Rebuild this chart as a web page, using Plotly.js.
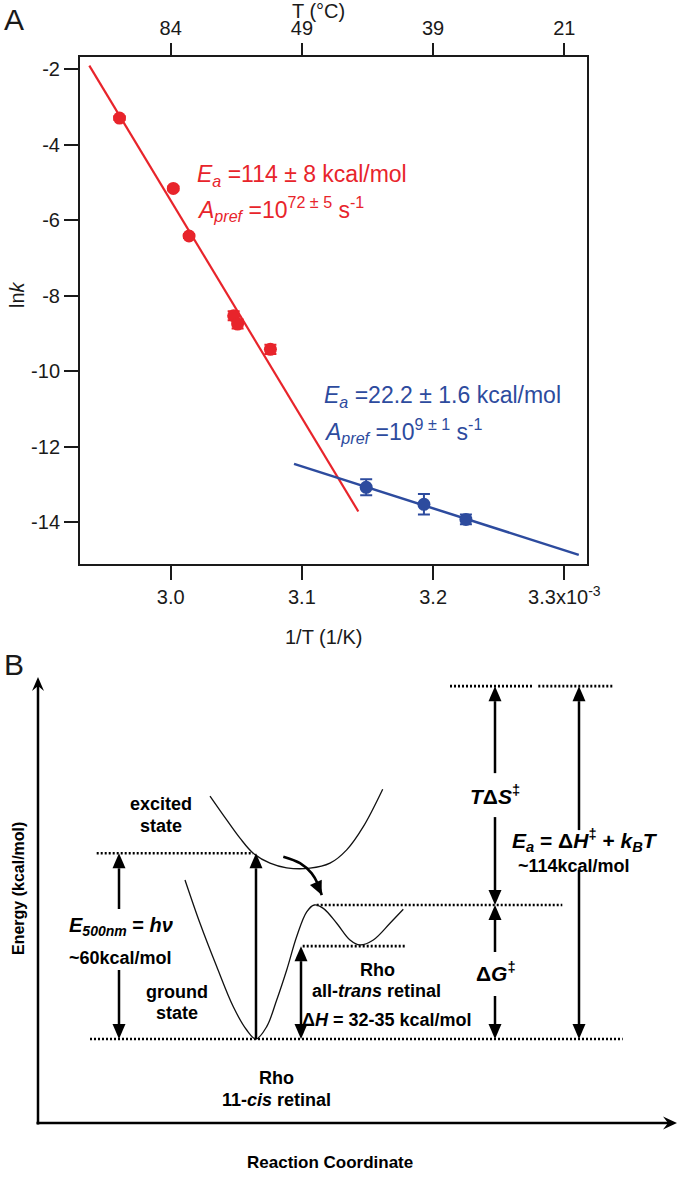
<!DOCTYPE html>
<html><head><meta charset="utf-8">
<script src="https://cdn.plot.ly/plotly-3.0.1.min.js"></script>
<style>html,body{margin:0;padding:0;background:#fff}#chart{width:680px;height:1183px}</style>
</head><body><div id="chart"></div>
<script>
// ---------- Panel A data: 1/T (units of 1e-3 K^-1) vs ln k ----------
const redX = [2.961, 3.002, 3.014, 3.048, 3.051, 3.076];
const redY = [-3.30, -5.16, -6.42, -8.53, -8.75, -9.42];
const redErr = [0.05, 0.05, 0.05, 0.12, 0.12, 0.12];
const blueX = [3.149, 3.193, 3.225];
const blueY = [-13.07, -13.52, -13.92];
const blueErr = [0.21, 0.27, 0.13];
const redFitX = [2.938, 3.143];
const redFitY = [-1.91, -13.71];
const blueFitX = [3.094, 3.311];
const blueFitY = [-12.45, -14.86];
const xTickVals = [3.0, 3.1, 3.2, 3.3];
const xTickText = ['3.0', '3.1', '3.2', '3.3x10<sup>-3</sup>'];
const topTickText = ['84', '49', '39', '21'];
const yTickVals = [-2, -4, -6, -8, -10, -12, -14];
const yTickText = ['-2', '-4', '-6', '-8', '-10', '-12', '-14'];

// ---------- Panel B schematic: reaction coordinate (a.u.) vs energy (kcal/mol) ----------
const groundRC = [185, 200, 216.7, 233.3, 246.7, 256, 266.7, 276.7, 286.7, 296.7, 306.7, 314.3, 323.3, 336.7, 350, 360, 373.3, 390, 403.3];
const groundE  = [51.4, 37.4, 23.4, 10.4, 2.9, 0, 4.0, 12.6, 22.3, 33.1, 41.1, 43.3, 42.2, 37.4, 32.0, 30.4, 32.0, 37.4, 41.9];
const excitedRC = [210, 226.7, 240, 253.3, 270, 286.7, 310, 330, 346.7, 363.3, 382.7];
const excitedE  = [78.5, 70.8, 64.9, 60.0, 56.8, 55.3, 55.2, 56.8, 61.1, 68.6, 80.7];
const hopRC = [283.3, 300, 311.7, 318.3, 321.7];
const hopE  = [58.9, 56.8, 53.5, 49.8, 46.5];
// energy levels (kcal/mol) and their horizontal extents
const levelE  = [60, 0, 30, 43.3, 114, 114];
const levelX0 = [96.7, 90, 302.7, 316.7, 450, 538.3];
const levelX1 = [253, 622.7, 406, 562.3, 532.7, 613.3];
// vertical arrows: x, tail energy, tip energy, double-headed
const arrowX    = [119, 119, 256, 301, 495, 495, 495, 495, 579, 579];
const arrowTail = [42.0, 22.3, 0, 0, 85.9, 71.7, 28.1, 13.9, 67.5, 54.6];
const arrowTip  = [60, 0, 60, 30, 114, 43.3, 43.3, 0, 114, 0];
const arrowBoth = [false, false, false, true, false, false, false, false, false, false];

// ---------- layout helpers ----------
const W = 680, H = 1183;
const px = v => v / W, py = v => 1 - v / H;
const E0PX = 1039, PXK = 3.095;           // pixel of E=0 and px per kcal/mol in panel B
const eB = p => (E0PX - p) / PXK;
const RED = '#E8242B', BLUE = '#2D4B9E', INK = '#1a1a1a';
const FONT = 'Liberation Sans, Arial, Helvetica, sans-serif';
const HL = 15, HW = 6.5;                   // arrow head length / half width (px)

// level trace
const lvX = [], lvY = [];
levelE.forEach((e, i) => { lvX.push(levelX0[i], levelX1[i], null); lvY.push(e, e, null); });

// arrow shafts + heads
const arX = [], arY = [], shapes = [];
function vHead(x, tipE, up) {
  const b = tipE + (up ? -1 : 1) * HL / PXK;
  shapes.push({type: 'path', xref: 'x2', yref: 'y2', path: `M${x},${tipE} L${x - HW},${b} L${x + HW},${b} Z`,
    fillcolor: '#000', line: {width: 0}});
  return b;
}
arrowX.forEach((x, i) => {
  const up = arrowTip[i] > arrowTail[i];
  const end = vHead(x, arrowTip[i], up);
  const start = arrowBoth[i] ? vHead(x, arrowTail[i], !up) : arrowTail[i];
  arX.push(x, x, null); arY.push(start, end, null);
});
// axes of panel B (barbed heads)
const axYtop = eB(677), axBase = eB(1123);
arX.push(38, 38, null); arY.push(eB(1124.5), axYtop - 9 / PXK, null);
arX.push(36.5, 668, null); arY.push(axBase, axBase, null);
shapes.push({type: 'path', xref: 'x2', yref: 'y2', fillcolor: '#000', line: {width: 0},
  path: `M38,${axYtop} L${38 - 6},${axYtop - 14 / PXK} L38,${axYtop - 9 / PXK} L${38 + 6},${axYtop - 14 / PXK} Z`});
shapes.push({type: 'path', xref: 'x2', yref: 'y2', fillcolor: '#000', line: {width: 0},
  path: `M677,${axBase} L663,${axBase + 6.5 / PXK} L668,${axBase} L663,${axBase - 6.5 / PXK} Z`});
// curved arrow head (direction from the last part of the hop path)
(function () {
  const n = hopRC.length, tx = hopRC[n - 1], tE = hopE[n - 1];
  const dx = tx - hopRC[n - 3], dy = (hopE[n - 3] - tE) * PXK; // screen px, y down
  const L = Math.hypot(dx, dy), ux = dx / L, uy = dy / L;
  const bx = tx - ux * 14, by = -uy * 14;   // base centre offset (screen px)
  const c1x = bx - uy * 6.5, c1y = by + ux * 6.5, c2x = bx + uy * 6.5, c2y = by - ux * 6.5;
  shapes.push({type: 'path', xref: 'x2', yref: 'y2', fillcolor: '#000', line: {width: 0},
    path: `M${tx},${tE} L${c1x},${tE - c1y / PXK} L${c2x},${tE - c2y / PXK} Z`});
})();

const traces = [
  {x: redFitX, y: redFitY, mode: 'lines', line: {color: RED, width: 2.2}, xaxis: 'x', yaxis: 'y', hoverinfo: 'skip'},
  {x: blueFitX, y: blueFitY, mode: 'lines', line: {color: BLUE, width: 2.5}, xaxis: 'x', yaxis: 'y', hoverinfo: 'skip'},
  {x: redX, y: redY, mode: 'markers', marker: {color: RED, size: 13}, xaxis: 'x', yaxis: 'y',
   error_y: {type: 'data', array: redErr, visible: true, color: RED, thickness: 2, width: 6}},
  {x: blueX, y: blueY, mode: 'markers', marker: {color: BLUE, size: 13}, xaxis: 'x', yaxis: 'y',
   error_y: {type: 'data', array: blueErr, visible: true, color: BLUE, thickness: 2, width: 6}},
  {x: redFitX, y: redFitY, mode: 'lines', xaxis: 'x3', yaxis: 'y', line: {width: 0, color: 'rgba(0,0,0,0)'}, hoverinfo: 'skip'},
  // Panel B
  {x: lvX, y: lvY, mode: 'lines', xaxis: 'x2', yaxis: 'y2', line: {color: '#000', width: 2.6, dash: '2px,2px'}, hoverinfo: 'skip'},
  {x: groundRC, y: groundE, mode: 'lines', xaxis: 'x2', yaxis: 'y2', line: {color: '#111', width: 1.3, shape: 'spline', smoothing: 1}, hoverinfo: 'skip'},
  {x: excitedRC, y: excitedE, mode: 'lines', xaxis: 'x2', yaxis: 'y2', line: {color: '#111', width: 1.3, shape: 'spline', smoothing: 1}, hoverinfo: 'skip'},
  {x: hopRC, y: hopE, mode: 'lines', xaxis: 'x2', yaxis: 'y2', line: {color: '#000', width: 2.6, shape: 'spline', smoothing: 1}, hoverinfo: 'skip'},
  {x: arX, y: arY, mode: 'lines', xaxis: 'x2', yaxis: 'y2', line: {color: '#000', width: 2.5}, hoverinfo: 'skip'}
];

function tA(text, x, y, o) {
  return Object.assign({xref: 'paper', yref: 'paper', x: px(x), y: py(y), text: text, showarrow: false,
    xanchor: 'center', yanchor: 'middle', font: {family: FONT, size: 20, color: INK}}, o || {});
}
function tB(text, x, y, o) {
  return Object.assign({xref: 'x2', yref: 'y2', x: x, y: eB(y), text: text, showarrow: false,
    xanchor: 'center', yanchor: 'middle', font: {family: FONT, size: 18, color: '#000', weight: 'bold'}}, o || {});
}
const mathFont = {family: FONT, size: 21, color: '#000', weight: 'bold'};

const anns = [
  tA('A', 14, 19, {font: {family: FONT, size: 30, color: INK}}),
  tA('T (°C)', 318, 11),
  tA('1/T (1/K)', 323, 637),
  tA('ln<i>k</i>', 17, 295, {textangle: -90}),
  tA('<i>E</i><sub><i>a</i></sub> =114 ± 8 kcal/mol', 195, 176, {xanchor: 'left', font: {family: FONT, size: 23, color: RED}}),
  tA('<i>A</i><sub><i>pref</i></sub> =10<sup>72 ± 5</sup> s<sup>-1</sup>', 195, 209, {xanchor: 'left', font: {family: FONT, size: 23, color: RED}}),
  tA('<i>E</i><sub><i>a</i></sub> =22.2 ± 1.6 kcal/mol', 322, 396, {xanchor: 'left', font: {family: FONT, size: 23, color: BLUE}}),
  tA('<i>A</i><sub><i>pref</i></sub> =10<sup>9 ± 1</sup> s<sup>-1</sup>', 322, 431, {xanchor: 'left', font: {family: FONT, size: 23, color: BLUE}}),
  tA('B', 14, 664, {font: {family: FONT, size: 30, color: INK}}),
  // Panel B text
  tB('excited', 161, 804), tB('state', 161, 826),
  tB('<i>E</i><sub><i>500nm</i></sub> = <i>hν</i>', 121, 927, {font: {family: FONT, size: 20, color: '#000', weight: 'bold'}}),
  tB('~60kcal/mol', 120, 958),
  tB('ground', 177, 992), tB('state', 177, 1013),
  tB('Rho', 377, 970), tB('all-<i>trans</i> retinal', 376, 991),
  tB('Δ<i>H</i> = 32-35 kcal/mol', 387, 1020),
  tB('Rho', 276, 1078), tB('11-<i>cis</i> retinal', 276, 1100),
  tB('<i>T</i>Δ<i>S</i><sup>‡</sup>', 495, 795, {font: mathFont}),
  tB('Δ<i>G</i><sup>‡</sup>', 496, 972, {font: mathFont}),
  tB('<i>E</i><sub><i>a</i></sub> = Δ<i>H</i><sup>‡</sup> + <i>k</i><sub><i>B</i></sub><i>T</i>', 585, 841, {font: mathFont}),
  tB('~114kcal/mol', 574, 866),
  tB('Energy (kcal/mol)', 19, 889, {textangle: -90, font: {family: FONT, size: 16, color: '#000', weight: 'bold'}}),
  tB('Reaction Coordinate', 330, 1162, {font: {family: FONT, size: 17, color: '#000', weight: 'bold'}})
];

const axA = {ticks: 'outside', tickwidth: 2, tickcolor: INK, showgrid: false, zeroline: false,
  tickfont: {family: FONT, size: 20, color: INK}};

const layout = {
  width: W, height: H, margin: {l: 0, r: 0, t: 0, b: 0},
  paper_bgcolor: '#fff', plot_bgcolor: 'rgba(0,0,0,0)', showlegend: false,
  font: {family: FONT},
  xaxis: Object.assign({}, axA, {domain: [80 / W, 587.3 / W], range: [2.9309, 3.3175], anchor: 'y',
    tickmode: 'array', tickvals: xTickVals, ticktext: xTickText, ticklen: 14,
    showline: true, linewidth: 2, linecolor: INK, mirror: true}),
  xaxis3: Object.assign({}, axA, {overlaying: 'x', anchor: 'y', side: 'top', range: [2.9309, 3.3175],
    tickmode: 'array', tickvals: xTickVals, ticktext: topTickText, ticklen: 13, showline: false}),
  yaxis: Object.assign({}, axA, {domain: [1 - 564 / H, 1 - 56.7 / H], range: [-15.1, -1.675], anchor: 'x',
    tickmode: 'array', tickvals: yTickVals, ticktext: yTickText, ticklen: 14,
    showline: true, linewidth: 2, linecolor: INK, mirror: true}),
  xaxis2: {domain: [0, 1], range: [0, W], anchor: 'y2', visible: false, fixedrange: true},
  yaxis2: {domain: [0, (H - 640) / H], range: [eB(1183), eB(640)], anchor: 'x2', visible: false, fixedrange: true},
  annotations: anns,
  shapes: shapes
};

Plotly.newPlot('chart', traces, layout, {staticPlot: true, displayModeBar: false});
</script>
</body></html>
